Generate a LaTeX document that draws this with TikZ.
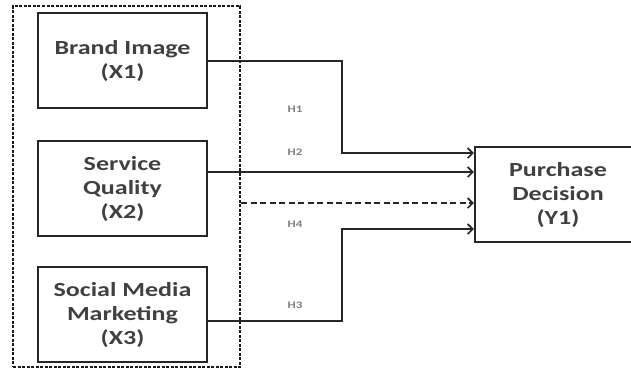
\documentclass[tikz,border=0pt]{standalone}
\usepackage{fontspec}
\usetikzlibrary{arrows.meta,calc}
\newfontfamily\boxfont[FakeStretch=1.3]{Carlito}
\definecolor{txt}{HTML}{404040}
\definecolor{hlab}{HTML}{808080}
\tikzset{
  varbox/.style={draw=black!85, line width=2.2pt, minimum width=169pt, minimum height=95pt,
    align=center, inner sep=0pt, text=txt, font=\boxfont\bfseries\fontsize{20}{24}\selectfont},
  hyplabel/.style={text=hlab, font=\boxfont\bfseries\fontsize{10}{10}\selectfont, inner sep=0pt},
  conn/.style={draw=black!85, line width=2pt, -{Straight Barb[length=5pt,width=10pt,line width=1.7pt]}},
  groupbox/.style={draw=black!90, line width=2.4pt, dash pattern=on 3pt off 1.5pt, minimum width=227pt, minimum height=361pt, inner sep=0pt}
}
\begin{document}
\begin{tikzpicture}[x=1pt,y=-1pt]
\useasboundingbox (0,0) rectangle (631,368);
\clip (0,0) rectangle (631,368);
\node[groupbox] (grp) at (126.5,186.5) {};
\node[varbox] (b1) at (122.5,60.5) {Brand Image\\(X1)};
\node[varbox] (b2) at (122.5,188.5) {Service\\Quality\\(X2)};
\node[varbox] (b3) at (122.5,314.5) {Social Media\\Marketing\\(X3)};
\node[varbox, minimum width=166pt] (y1) at (558,194.5) {Purchase\\Decision\\(Y1)};
\coordinate (k1) at (342,153);
\coordinate (a2) at (300,172);
\coordinate (d4) at (300,203);
\coordinate (c3) at (342,321);
\coordinate (k3) at (342,229);
\draw[conn] (b1.east) -| (k1) -- (k1 -| y1.west);
\draw[conn] (b2.east |- a2) -- (a2 -| y1.west);
\draw[conn, dash pattern=on 6pt off 3.5pt] (grp.east |- d4) -- (d4 -| y1.west);
\draw[conn] (b3.east |- c3) -- (c3) -- (k3) -- (k3 -| y1.west);
\node[hyplabel] (h1) at (295,109) {H1};
\node[hyplabel] (h2) at (295,152) {H2};
\node[hyplabel] (h4) at (295,224) {H4};
\node[hyplabel] (h3) at (295,305) {H3};
\end{tikzpicture}
\end{document}
